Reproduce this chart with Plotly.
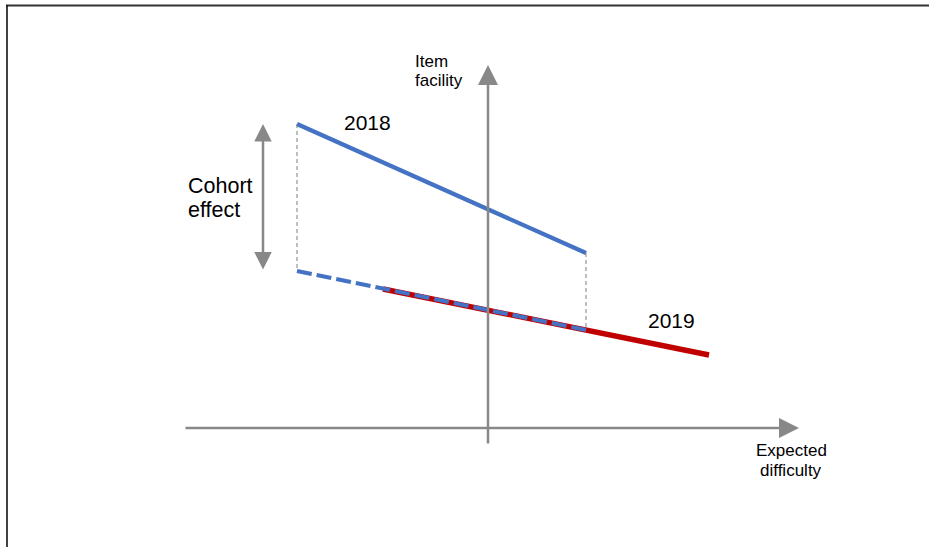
import plotly.graph_objects as go

# Conceptual values (origin at axis crossing)
line2018_x = [-1.91, 0.98]
line2018_y = [3.04, 1.75]
line2018_shift_y = [1.57, 0.98]   # 2018 line shifted by cohort effect (dashed)
line2019_x = [-1.05, 2.21]
line2019_y = [1.39, 0.73]
xaxis_extent = [-3.04, 3.11]
yaxis_extent = [-0.17, 3.63]

BLUE = "#4472C4"
RED = "#C00000"
GREY = "#888888"
FONT = "Liberation Sans, Arial, sans-serif"

fig = go.Figure()

# 2019 red line (under)
fig.add_trace(go.Scatter(x=line2019_x, y=line2019_y, mode="lines",
                         line=dict(color=RED, width=5.5), hoverinfo="skip"))
# 2018 shifted dashed line
fig.add_trace(go.Scatter(x=line2018_x, y=line2018_shift_y, mode="lines",
                         line=dict(color=BLUE, width=4.2, dash="15px,5px"), hoverinfo="skip"))
# 2018 solid line
fig.add_trace(go.Scatter(x=line2018_x, y=line2018_y, mode="lines",
                         line=dict(color=BLUE, width=4.2), hoverinfo="skip"))

shapes = []
# thin dashed connectors
for i in range(2):
    shapes.append(dict(type="line", xref="x", yref="y",
                       x0=line2018_x[i], x1=line2018_x[i],
                       y0=line2018_y[i], y1=line2018_shift_y[i],
                       line=dict(color="#7f7f7f", width=1, dash="4px,3px")))
# frame lines
shapes.append(dict(type="line", xref="paper", yref="paper", x0=6/929, x1=1,
                   y0=1-5.5/547, y1=1-5.5/547, line=dict(color="#333333", width=2)))
shapes.append(dict(type="line", xref="paper", yref="paper", x0=7/929, x1=7/929,
                   y0=0, y1=1-5/547, line=dict(color="#111111", width=1.6)))

annotations = []
# axes arrows
annotations.append(dict(x=xaxis_extent[1], y=0, ax=xaxis_extent[0], ay=0,
                        xref="x", yref="y", axref="x", ayref="y", text="",
                        showarrow=True, arrowhead=2, arrowsize=1.6, arrowwidth=2.5,
                        arrowcolor=GREY))
annotations.append(dict(x=0, y=yaxis_extent[1], ax=0, ay=yaxis_extent[0],
                        xref="x", yref="y", axref="x", ayref="y", text="",
                        showarrow=True, arrowhead=2, arrowsize=1.6, arrowwidth=2.5,
                        arrowcolor=GREY))
# cohort effect double arrow
annotations.append(dict(x=-2.25, y=line2018_y[0], ax=-2.25, ay=line2018_shift_y[0],
                        xref="x", yref="y", axref="x", ayref="y", text="",
                        showarrow=True, arrowhead=2, startarrowhead=2,
                        arrowside="end+start", arrowsize=1.4, arrowwidth=2.5,
                        arrowcolor=GREY))

def txt(x, y, t, size, xanchor="left"):
    return dict(x=x, y=y, xref="x", yref="y", text=t, showarrow=False,
                xanchor=xanchor, yanchor="middle", align="left",
                font=dict(family=FONT, size=size, color="#000000"))

annotations.append(txt(-1.46, 3.06, "2018", 21))
annotations.append(txt(1.58, 1.075, "2019", 21))
annotations.append(txt(-3.02, 2.42, "Cohort", 21.5))
annotations.append(txt(-3.02, 2.18, "effect", 21.5))
annotations.append(txt(-0.75, 3.67, "Item", 17))
annotations.append(txt(-0.75, 3.48, "facility", 17))
annotations.append(txt(3.03, -0.22, "Expected", 17, xanchor="center"))
annotations.append(txt(3.03, -0.42, "difficulty", 17, xanchor="center"))

fig.update_layout(
    width=929, height=547,
    margin=dict(l=0, r=0, t=0, b=0),
    paper_bgcolor="white", plot_bgcolor="white",
    showlegend=False,
    xaxis=dict(range=[-4.88, 4.41], visible=False, fixedrange=True),
    yaxis=dict(range=[-1.19, 4.28], visible=False, fixedrange=True),
    shapes=shapes, annotations=annotations,
)

fig.write_html("out.html", config={"displayModeBar": False},
               post_script="document.body.style.margin='0';")
